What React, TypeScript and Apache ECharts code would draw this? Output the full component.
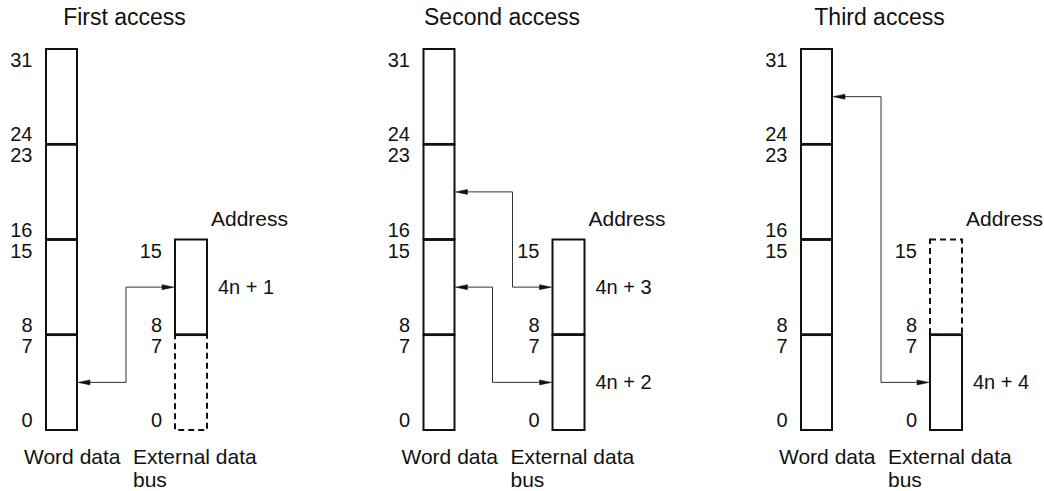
import React, { useEffect, useRef } from "react";
import * as echarts from "echarts";

// ---------- data ----------
const accessTitles = ["First access", "Second access", "Third access"];
const wordByteRanges = [[0, 8], [8, 16], [16, 24], [24, 32]]; // bit ranges of word data byte lanes
const wordBitLabels = [["0", "7"], ["8", "15"], ["16", "23"], ["24", "31"]]; // [low bit, high bit]
const busByteRanges = [[0, 8], [8, 16]]; // bit ranges of external data bus byte lanes
const busBitLabels = [["0", "7"], ["8", "15"]];
const busByteUsed = [[0, 1], [1, 1], [1, 0]]; // per access: low lane, high lane (1 = used)
const busAddress = [["", "4n + 1"], ["4n + 2", "4n + 3"], ["4n + 4", ""]];
const transfers = [[[0, 1]], [[2, 1], [1, 0]], [[3, 0]]]; // [word byte lane, bus byte lane]
const addressCaption = "Address";
const wordCaption = "Word data";
const busCaption = ["External data", "bus"];

// ---------- layout ----------
const W = 1044;
const H = 491;
const PANEL_X0 = 46;
const PANEL_DX = 377.5;
const GRID_TOP = 49;
const GRID_H = 381;
const GRID_W = 161;
const WORD_COL = [0, 31];
const BUS_COL = [129, 161];
const ELBOW = [[80], [89, 69], [80]];
const FONT = "'Liberation Sans', Arial, Helvetica, sans-serif";
const INK = "#111";

function textEl(text: string, x: number, y: number, size: number, align: string) {
  return {
    type: "text",
    x,
    y,
    z2: 5,
    style: {
      text,
      fill: INK,
      fontSize: size,
      fontFamily: FONT,
      textAlign: align,
      textVerticalAlign: "middle",
    },
  };
}

export default function App() {
  const ref = useRef<HTMLDivElement>(null);

  useEffect(() => {
    document.body.style.margin = "0";
    const chart = echarts.init(ref.current!, null, { renderer: "svg" });

    const grids: any[] = [];
    const xAxes: any[] = [];
    const yAxes: any[] = [];
    const series: any[] = [];
    const graphics: any[] = [];

    accessTitles.forEach((title, i) => {
      const left = PANEL_X0 + i * PANEL_DX;
      grids.push({ left, top: GRID_TOP, width: GRID_W, height: GRID_H });
      xAxes.push({ type: "value", gridIndex: i, min: 0, max: GRID_W, show: false });
      yAxes.push({ type: "value", gridIndex: i, min: 0, max: 32, show: false });

      // word data column
      series.push({
        type: "custom",
        xAxisIndex: i,
        yAxisIndex: i,
        clip: false,
        data: wordByteRanges.map((r) => [r[0], r[1]]),
        renderItem: (params: any, api: any) => {
          const lo = api.value(0);
          const hi = api.value(1);
          const p0 = api.coord([WORD_COL[0], hi]);
          const p1 = api.coord([WORD_COL[1], lo]);
          const lab = wordBitLabels[params.dataIndex];
          const children: any[] = [
            {
              type: "rect",
              shape: { x: p0[0], y: p0[1], width: p1[0] - p0[0], height: p1[1] - p0[1] },
              style: { fill: "none", stroke: INK, lineWidth: 2 },
            },
            textEl(lab[1], p0[0] - 13.5, p0[1] + 11, 20, "right"),
            textEl(lab[0], p0[0] - 13.5, p1[1] - 10, 20, "right"),
          ];
          if (lo > 0) {
            children.push({
              type: "line",
              z2: 4,
              shape: { x1: p0[0], y1: p1[1], x2: p1[0], y2: p1[1] },
              style: { stroke: INK, lineWidth: 2.6 },
            });
          }
          return { type: "group", children };
        },
      });

      // external data bus column
      series.push({
        type: "custom",
        xAxisIndex: i,
        yAxisIndex: i,
        clip: false,
        data: busByteRanges.map((r, j) => [r[0], r[1], busByteUsed[i][j]]),
        renderItem: (params: any, api: any) => {
          const lo = api.value(0);
          const hi = api.value(1);
          const used = api.value(2) === 1;
          const p0 = api.coord([BUS_COL[0], hi]);
          const p1 = api.coord([BUS_COL[1], lo]);
          const lab = busBitLabels[params.dataIndex];
          const addr = busAddress[i][params.dataIndex];
          const children: any[] = [
            {
              type: "rect",
              z2: used ? 3 : 1,
              shape: { x: p0[0], y: p0[1], width: p1[0] - p0[0], height: p1[1] - p0[1] },
              style: used
                ? { fill: "none", stroke: INK, lineWidth: 2 }
                : { fill: "none", stroke: INK, lineWidth: 2, lineDash: [6, 4] },
            },
            textEl(lab[1], p0[0] - 13, p0[1] + 11, 20, "right"),
            textEl(lab[0], p0[0] - 13, p1[1] - 10, 20, "right"),
          ];
          if (used) {
            const edgeY = lo > 0 ? p1[1] : p0[1];
            children.push({
              type: "line",
              z2: 4,
              shape: { x1: p0[0], y1: edgeY, x2: p1[0], y2: edgeY },
              style: { stroke: INK, lineWidth: lo > 0 || hi < 16 ? 2.6 : 2 },
            });
          }
          if (addr) {
            children.push(textEl(addr, p1[0] + 11, (p0[1] + p1[1]) / 2, 20, "left"));
          }
          return { type: "group", children };
        },
      });

      // transfer arrows
      series.push({
        type: "custom",
        xAxisIndex: i,
        yAxisIndex: i,
        clip: false,
        data: transfers[i].map((t, k) => [t[0], t[1], ELBOW[i][k]]),
        renderItem: (params: any, api: any) => {
          const wb = api.value(0);
          const bb = api.value(1);
          const ex = api.coord([api.value(2), 0])[0];
          const wy = api.coord([0, wb * 8 + 4])[1];
          const by = api.coord([0, bb * 8 + 4])[1];
          const wx = api.coord([WORD_COL[1], 0])[0] + 1;
          const bx = api.coord([BUS_COL[0], 0])[0] - 1;
          const L = 12;
          const hw = 2.5;
          return {
            type: "group",
            children: [
              {
                type: "polyline",
                shape: { points: [[wx + L, wy], [ex, wy], [ex, by], [bx - L, by]] },
                style: { fill: "none", stroke: "#333", lineWidth: 1 },
              },
              {
                type: "polygon",
                shape: { points: [[wx, wy], [wx + L, wy - hw], [wx + L, wy + hw]] },
                style: { fill: INK, stroke: INK, lineWidth: 0.5 },
              },
              {
                type: "polygon",
                shape: { points: [[bx, by], [bx - L, by - hw], [bx - L, by + hw]] },
                style: { fill: INK, stroke: INK, lineWidth: 0.5 },
              },
            ],
          };
        },
      });

      // captions
      graphics.push(textEl(title, left + 78.5, 17, 23, "center"));
      graphics.push(textEl(addressCaption, left + BUS_COL[1] + 4, 218, 21, "left"));
      graphics.push(textEl(wordCaption, left - 22, 456, 21, "left"));
      graphics.push(textEl(busCaption[0], left + BUS_COL[0] - 42, 456, 21, "left"));
      graphics.push(textEl(busCaption[1], left + BUS_COL[0] - 42, 479, 21, "left"));
    });

    chart.setOption({
      animation: false,
      backgroundColor: "#fff",
      grid: grids,
      xAxis: xAxes,
      yAxis: yAxes,
      series,
      graphic: graphics,
    });

    return () => chart.dispose();
  }, []);

  return <div ref={ref} style={{ width: W, height: H }} />;
}
